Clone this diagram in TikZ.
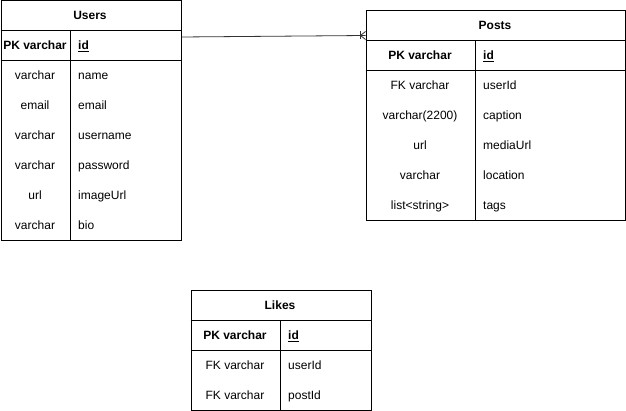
\documentclass[tikz,border=0pt]{standalone}
\usepackage{fontspec}
\setmainfont{Liberation Sans}
\usepackage{tikz}
\usetikzlibrary{calc}
\newcommand{\rowfont}{\fontsize{12pt}{14pt}\selectfont}
\newcommand{\linew}{1pt}
\begin{document}
\begin{tikzpicture}[x=1pt, y=-1pt,
  tbl/.style={draw, line width=\linew, inner sep=0pt},
  txt/.style={inner sep=0pt, text height=9pt, text depth=0pt, font=\rowfont},
  fld/.style={txt, anchor=west}]
\useasboundingbox (0,0) rectangle (626,411);
%Users
\node[tbl, minimum width=180pt, minimum height=240pt, anchor=north west] (users) at (0.5,0.5) {};
\draw[line width=\linew] (0.5,30.5) -- (180.5,30.5);
\draw[line width=\linew] (0.5,60.5) -- (180.5,60.5);
\draw[line width=\linew] (70.5,30.5) -- (70.5,240.5);
\node[txt] (u0) at (90,15) {\bfseries Users};
\node[txt] (u1) at (35,45) {\bfseries PK varchar};
\node[fld] (u1f) at (78,45) {\bfseries\underline{id}};
\node[txt] (u2) at (35,75) {varchar};
\node[fld] (u2f) at (78,75) {name};
\node[txt] (u3) at (35,105) {email};
\node[fld] (u3f) at (78,105) {email};
\node[txt] (u4) at (35,135) {varchar};
\node[fld] (u4f) at (78,135) {username};
\node[txt] (u5) at (35,165) {varchar};
\node[fld] (u5f) at (78,165) {password};
\node[txt] (u6) at (35,195) {url};
\node[fld] (u6f) at (78,195) {imageUrl};
\node[txt] (u7) at (35,225) {varchar};
\node[fld] (u7f) at (78,225) {bio};
%Posts
\node[tbl, minimum width=259pt, minimum height=210pt, anchor=north west] (posts) at (365.5,10.5) {};
\draw[line width=\linew] (365.5,40.5) -- (624.5,40.5);
\draw[line width=\linew] (365.5,70.5) -- (624.5,70.5);
\draw[line width=\linew] (475.5,40.5) -- (475.5,220.5);
\node[txt] (p0) at (495,25) {\bfseries Posts};
\node[txt] (p1) at (420,55) {\bfseries PK varchar};
\node[fld] (p1f) at (483,55) {\bfseries\underline{id}};
\node[txt] (p2) at (420,85) {FK varchar};
\node[fld] (p2f) at (483,85) {userId};
\node[txt] (p3) at (420,115) {varchar(2200)};
\node[fld] (p3f) at (483,115) {caption};
\node[txt] (p4) at (420,145) {url};
\node[fld] (p4f) at (483,145) {mediaUrl};
\node[txt] (p5) at (420,175) {varchar};
\node[fld] (p5f) at (483,175) {location};
\node[txt] (p6) at (420,205) {list<string>};
\node[fld] (p6f) at (483,205) {tags};
%Likes
\node[tbl, minimum width=180pt, minimum height=119pt, anchor=north west] (likes) at (190.5,290.5) {};
\draw[line width=\linew] (190.5,320.5) -- (370.5,320.5);
\draw[line width=\linew] (190.5,350.5) -- (370.5,350.5);
\draw[line width=\linew] (280.5,320.5) -- (280.5,409.5);
\node[txt] (l0) at (280,305) {\bfseries Likes};
\node[txt] (l1) at (235,335) {\bfseries PK varchar};
\node[fld] (l1f) at (288,335) {\bfseries\underline{id}};
\node[txt] (l2) at (235,365) {FK varchar};
\node[fld] (l2f) at (288,365) {userId};
\node[txt] (l3) at (235,395) {FK varchar};
\node[fld] (l3f) at (288,395) {postId};
%relation
\coordinate (ua) at ([yshift=-36.5pt]users.north east);
\coordinate (pa) at ([yshift=-25pt]posts.north west);
\draw[line width=0.8pt, black!80] (ua) -- (pa);
\draw[line width=0.8pt, black!80] ($(pa)+(-5,-4)$) -- ($(pa)+(-5,4)$);
\draw[line width=0.8pt, black!80] ($(pa)+(-5,0)$) -- ($(pa)+(0,-4)$);
\draw[line width=0.8pt, black!80] ($(pa)+(-5,0)$) -- ($(pa)+(0,4)$);
\end{tikzpicture}
\end{document}
